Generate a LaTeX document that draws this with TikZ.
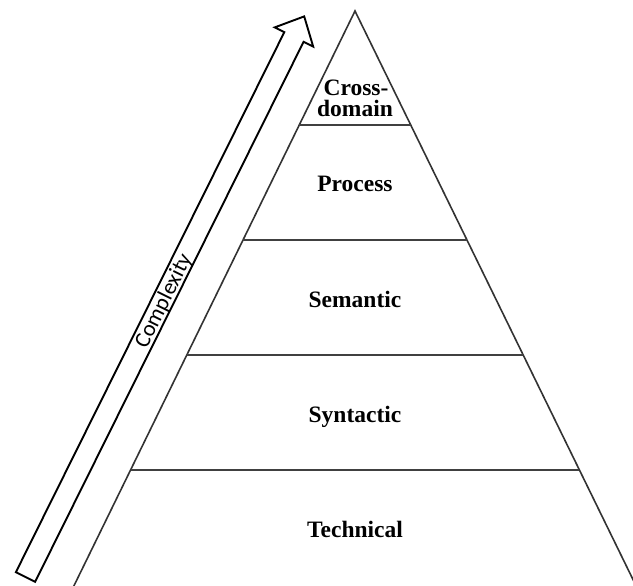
\documentclass[tikz,border=0pt]{standalone}
\usepackage{fontspec}
\setmainfont{Liberation Serif}
\newfontfamily\arrowfont{Carlito}
\begin{document}
\begin{tikzpicture}[x=1pt,y=-1pt,
  side/.style={draw=black!80,line width=1.6pt},
  level/.style={draw=black!75,line width=1.8pt},
  lvltext/.style={font=\fontsize{23.5}{21}\selectfont\bfseries,anchor=base,inner sep=0pt},
  bigarrow/.style={draw=black,line width=1.9pt,line join=miter,fill=white}]
\clip (0,0) rectangle (633,586);
\fill[white] (0,0) rectangle (633,586);
% pyramid
\coordinate (apex) at (355,11);
\coordinate (bl) at (67,600);
\coordinate (br) at (643,600);
\draw[side,line join=miter] (bl) -- (apex) -- (br);
\draw[level] (299.3,125) -- (410.7,125);
\draw[level] (243.0,240) -- (467.0,240);
\draw[level] (186.8,355) -- (523.2,355);
\draw[level] (130.6,470) -- (579.4,470);
% labels
\node[lvltext] (cross) at (356,96) {Cross-};
\node[lvltext] (domain) at (355,117) {domain};
\node[lvltext] (process) at (355,192) {Process};
\node[lvltext] (semantic) at (355,307) {Semantic};
\node[lvltext] (syntactic) at (355,422) {Syntactic};
\node[lvltext] (technical) at (355,537) {Technical};
% complexity arrow
\draw[bigarrow] (15.87,572.2) -- (35.13,581.8) -- (303.6,41.8) -- (313.2,46.6)
  -- (304.2,16.4) -- (274.7,27.4) -- (284.3,32.2) -- cycle;
\node[font=\arrowfont\fontsize{22.5}{22}\selectfont,rotate=63.56,inner sep=0pt] (complexity) at (164,301) {Complexity};
\end{tikzpicture}
\end{document}
